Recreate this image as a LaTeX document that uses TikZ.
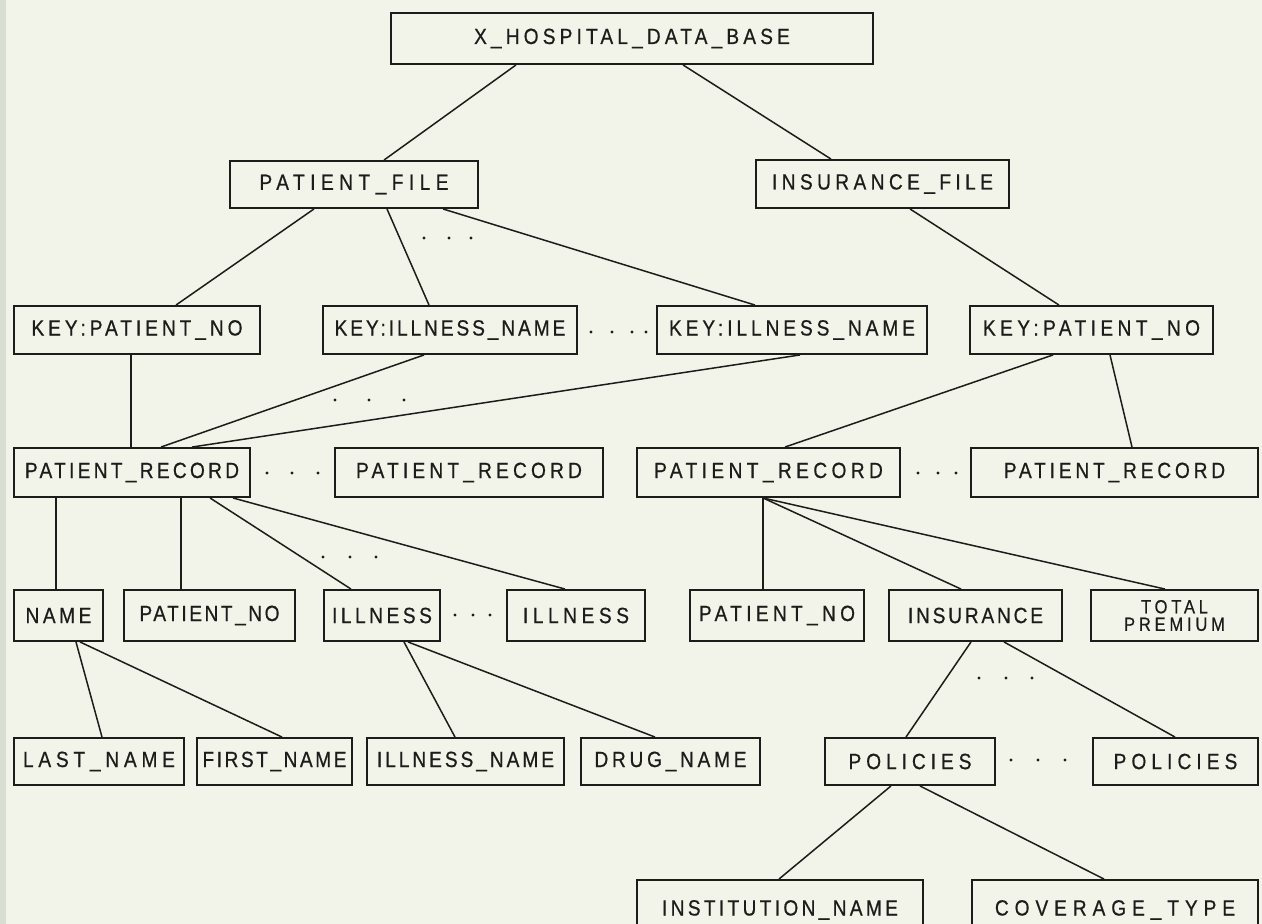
\documentclass[tikz,border=0pt]{standalone}
\usepackage{fontspec}
\setmainfont{Liberation Sans}[FakeStretch=0.87, FakeBold=0.6]
\usetikzlibrary{calc}
\definecolor{paper}{HTML}{F2F4E9}
\definecolor{edgeband}{HTML}{DADDD2}
\definecolor{ink}{HTML}{1C1C1A}
\tikzset{
  box/.style={draw=ink, line width=1.9pt, inner sep=0pt, align=center, text=ink,
              font=\fontsize{22}{22}\selectfont},
  ls/.style={font=\fontsize{22}{22}\selectfont\addfontfeatures{LetterSpace=#1}},
  twoline/.style={font=\fontsize{19}{17.5}\selectfont\addfontfeatures{LetterSpace=20}},
  link/.style={draw=ink, line width=1.5pt},
}
% a box from its corners (x1,y1)-(x2,y2), y pointing down
\newcommand{\bx}[7][]{%
  \pgfmathsetmacro{\bw}{#5-#3}\pgfmathsetmacro{\bh}{#6-#4}%
  \node[box,#1,minimum width=\bw pt,minimum height=\bh pt] (#2) at ({(#3+#5)/2},{(#4+#6)/2}) {#7};}
% a connector from the bottom of one box to the top of another
\newcommand{\lk}[4]{\draw[link] ([xshift=#2pt]#1.south) -- ([xshift=#4pt]#3.north);}
% a row of ellipsis dots
\newcommand{\dts}[2]{\foreach \dx in {#1} \fill[ink] (\dx,#2) circle (1.7);}
\begin{document}
\begin{tikzpicture}[x=1pt,y=-1pt]
\useasboundingbox (0,0) rectangle (1262,924);
\fill[paper] (0,0) rectangle (1262,924);
\fill[edgeband] (0,0) rectangle (6,924);
\clip (0,0) rectangle (1262,924);

% level 1
\bx[ls=18.8]{top}{391}{13}{873}{64}{X\_HOSPITAL\_DATA\_BASE}
% level 2
\bx[ls=24.8]{pfile}{230}{161}{478}{208}{PATIENT\_FILE}
\bx[ls=20]{ifile}{756}{160}{1009}{208}{INSURANCE\_FILE}
% level 3
\bx[ls=17.9]{kpn1}{14}{306}{260}{354}{KEY:PATIENT\_NO}
\bx[ls=13.2]{kin1}{323}{306}{577}{354}{KEY:ILLNESS\_NAME}
\bx[ls=17.8]{kin2}{657}{306}{927}{354}{KEY:ILLNESS\_NAME}
\bx[ls=20]{kpn2}{970}{306}{1213}{354}{KEY:PATIENT\_NO}
% level 4
\bx[ls=14.9]{pr1}{14}{448}{250}{497}{PATIENT\_RECORD}
\bx[ls=19]{pr2}{335}{448}{603}{497}{PATIENT\_RECORD}
\bx[ls=20]{pr3}{637}{448}{900}{497}{PATIENT\_RECORD}
\bx[ls=17.4]{pr4}{971}{448}{1258}{497}{PATIENT\_RECORD}
% level 5
\bx[ls=16]{name}{14}{590}{103}{641}{NAME}
\bx[ls=11.5]{pno1}{124}{590}{295}{641}{PATIENT\_NO}
\bx[ls=16]{ill1}{324}{590}{440}{641}{ILLNESS}
\bx[ls=20.7]{ill2}{507}{590}{645}{641}{ILLNESS}
\bx[ls=19.6]{pno2}{690}{590}{864}{641}{PATIENT\_NO}
\bx[ls=12.7]{ins}{889}{590}{1062}{641}{INSURANCE}
\bx[twoline]{tot}{1091}{590}{1258}{641}{TOTAL\\PREMIUM}
% level 6
\bx[ls=21.7]{ln}{14}{738}{184}{785}{LAST\_NAME}
\bx[ls=11.5]{fn}{197}{738}{352}{785}{FIRST\_NAME}
\bx[ls=13.4]{inm}{367}{738}{564}{785}{ILLNESS\_NAME}
\bx[ls=16.9]{dn}{581}{738}{760}{785}{DRUG\_NAME}
\bx[ls=22.5]{pol1}{825}{738}{995}{785}{POLICIES}
\bx[ls=23]{pol2}{1093}{738}{1258}{785}{POLICIES}
% level 7 (runs off the lower edge)
\bx[ls=15.1]{inst}{637}{880}{923}{940}{INSTITUTION\_NAME}
\bx[ls=26.9]{cov}{972}{880}{1258}{940}{COVERAGE\_TYPE}

% connectors
\lk{top}{-116}{pfile}{30}
\lk{top}{51}{ifile}{-51.5}
\lk{pfile}{-40}{kpn1}{39}
\lk{pfile}{33}{kin1}{-21}
\lk{pfile}{89}{kin2}{-37}
\lk{ifile}{27.5}{kpn2}{-32.5}
\lk{kpn1}{-6}{pr1}{-1}
\lk{kin1}{-26}{pr1}{29}
\lk{kin2}{8}{pr1}{60}
\lk{kpn2}{-38.5}{pr3}{16.5}
\lk{kpn2}{18.5}{pr4}{17.5}
\lk{pr1}{-76}{name}{-2.5}
\lk{pr1}{49}{pno1}{-28.5}
\lk{pr1}{78}{ill1}{-31}
\lk{pr1}{101}{ill2}{-11}
\lk{pr3}{-5.5}{pno2}{-14}
\lk{pr3}{-5.5}{ins}{-14.5}
\lk{pr3}{-5.5}{tot}{-9.5}
\lk{name}{17.5}{ln}{3}
\lk{name}{21.5}{fn}{7.5}
\lk{ill1}{22}{inm}{-10.5}
\lk{ill1}{26}{dn}{-15.5}
\lk{ins}{-4.5}{pol1}{-4}
\lk{ins}{28.5}{pol2}{-0.5}
\lk{pol1}{-19}{inst}{-1}
\lk{pol1}{10}{cov}{-11}

% ellipsis marks
\dts{424,449,471}{238}
\dts{591,612,632,646}{332}
\dts{335,369,404}{400}
\dts{267,292,318}{473}
\dts{918,938,956}{473}
\dts{323,350,376}{557}
\dts{455,473,490}{615}
\dts{979,1006,1032}{678}
\dts{1011,1038,1065}{760}
\end{tikzpicture}
\end{document}
